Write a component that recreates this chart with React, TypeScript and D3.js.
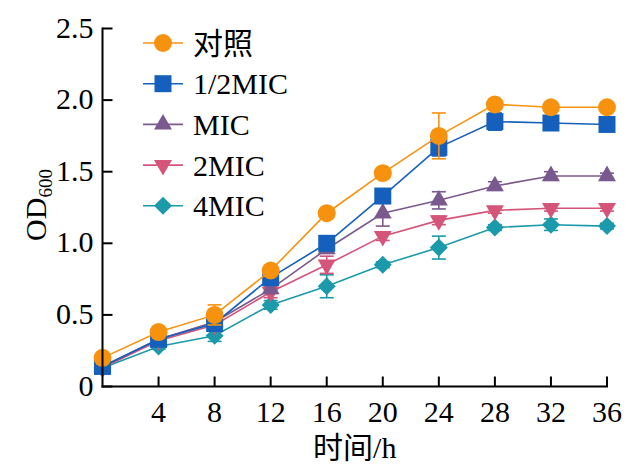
import React, { useEffect } from "react";
import * as d3 from "d3";

// sampling times (h)
const hours = [0, 4, 8, 12, 16, 20, 24, 28, 32, 36];

// OD600 means and error bars
const controlOD = [0.2, 0.38, 0.5, 0.81, 1.21, 1.49, 1.75, 1.97, 1.95, 1.95];
const controlErr = [0.02, 0.02, 0.07, 0.03, 0.02, 0.02, 0.16, 0.02, 0.02, 0.02];
const halfMicOD = [0.14, 0.33, 0.44, 0.76, 1.0, 1.33, 1.67, 1.85, 1.84, 1.83];
const halfMicErr = [0.02, 0.03, 0.03, 0.03, 0.05, 0.02, 0.06, 0.06, 0.02, 0.02];
const micOD = [0.14, 0.33, 0.45, 0.68, 0.96, 1.21, 1.3, 1.4, 1.47, 1.47];
const micErr = [0.02, 0.02, 0.02, 0.03, 0.03, 0.09, 0.06, 0.03, 0.03, 0.02];
const twoMicOD = [0.13, 0.32, 0.43, 0.66, 0.85, 1.05, 1.16, 1.23, 1.245, 1.245];
const twoMicErr = [0.02, 0.02, 0.03, 0.04, 0.06, 0.03, 0.03, 0.02, 0.02, 0.02];
const fourMicOD = [0.13, 0.28, 0.355, 0.57, 0.7, 0.85, 0.97, 1.11, 1.13, 1.12];
const fourMicErr = [0.02, 0.02, 0.04, 0.03, 0.08, 0.02, 0.08, 0.02, 0.04, 0.02];

const seriesNames = ["对照", "1/2MIC", "MIC", "2MIC", "4MIC"];
const yTicks = [0, 0.5, 1.0, 1.5, 2.0, 2.5];
const xTicks = [4, 8, 12, 16, 20, 24, 28, 32, 36];

type Shape = "circle" | "square" | "up" | "down" | "diamond";

const series = [
  { name: seriesNames[0], values: controlOD, err: controlErr, color: "#F7920F", shape: "circle" as Shape },
  { name: seriesNames[1], values: halfMicOD, err: halfMicErr, color: "#1560BC", shape: "square" as Shape },
  { name: seriesNames[2], values: micOD, err: micErr, color: "#7A5A8E", shape: "up" as Shape },
  { name: seriesNames[3], values: twoMicOD, err: twoMicErr, color: "#D5557A", shape: "down" as Shape },
  { name: seriesNames[4], values: fourMicOD, err: fourMicErr, color: "#1A9AAA", shape: "diamond" as Shape },
];

const FONT = "'Liberation Serif', 'Times New Roman', 'Noto Sans CJK SC', serif";

function symbolPath(shape: Shape): { d: string; rot: number } {
  if (shape === "circle") return { d: d3.symbol(d3.symbolCircle, 254)()!, rot: 0 };
  if (shape === "square") return { d: d3.symbol(d3.symbolSquare, 289)()!, rot: 0 };
  if (shape === "up") return { d: d3.symbol(d3.symbolTriangle, 140)()!, rot: 0 };
  if (shape === "down") return { d: d3.symbol(d3.symbolTriangle, 140)()!, rot: 180 };
  return { d: d3.symbol(d3.symbolSquare, 162)()!, rot: 45 };
}

function Marker({ shape, color, x, y }: { shape: Shape; color: string; x: number; y: number }) {
  const s = symbolPath(shape);
  return <path d={s.d} fill={color} transform={`translate(${x},${y}) rotate(${s.rot})`} />;
}

export default function App() {
  useEffect(() => {
    document.body.style.margin = "0";
  }, []);

  const width = 639;
  const height = 467;

  const x = d3.scaleLinear().domain([0, 36]).range([102.5, 607]);
  const y = d3.scaleLinear().domain([0, 2.5]).range([386.5, 28.5]);

  const line = d3
    .line<number>()
    .x((_, i) => x(hours[i]))
    .y((d) => y(d));

  const drawOrder = [...series].reverse();
  const capW = 7;

  return (
    <svg width={width} height={height} style={{ display: "block", background: "#fff" }}>
      {/* series */}
      {drawOrder.map((s) => (
        <g key={s.name}>
          <path d={line(s.values)!} fill="none" stroke={s.color} strokeWidth={1.6} />
          {s.values.map((v, i) => (
            <Marker key={i} shape={s.shape} color={s.color} x={x(hours[i])} y={y(v)} />
          ))}
          {s.values.map((v, i) => {
            const cx = x(hours[i]);
            const top = y(v + s.err[i]);
            const bot = y(v - s.err[i]);
            return (
              <g key={"e" + i} stroke={s.color} strokeWidth={1.6}>
                <line x1={cx} x2={cx} y1={top} y2={bot} />
                <line x1={cx - capW} x2={cx + capW} y1={top} y2={top} />
                <line x1={cx - capW} x2={cx + capW} y1={bot} y2={bot} />
              </g>
            );
          })}
        </g>
      ))}

      {/* axes */}
      <g stroke="#000" strokeWidth={2} fill="none">
        <line x1={x(0)} x2={x(0)} y1={y(0) + 1} y2={y(2.5) - 1} />
        <line x1={x(0) - 1} x2={x(36) + 1} y1={y(0)} y2={y(0)} />
        {yTicks.map((t) => (
          <line key={t} x1={x(0)} x2={x(0) + 10} y1={y(t)} y2={y(t)} />
        ))}
        {xTicks.map((t) => (
          <line key={t} x1={x(t)} x2={x(t)} y1={y(0)} y2={y(0) - 10} />
        ))}
      </g>
      <g fontFamily={FONT} fontSize={30} fill="#000">
        {yTicks.map((t) => (
          <text key={t} x={x(0) - 9} y={y(t)} dy="0.3em" textAnchor="end">
            {t === 0 ? "0" : t.toFixed(1)}
          </text>
        ))}
        {xTicks.map((t) => (
          <text key={t} x={x(t)} y={y(0) + 35} textAnchor="middle">
            {t}
          </text>
        ))}
        <text x={(x(0) + x(36)) / 2} y={458} textAnchor="middle">
          时间/h
        </text>
        <text transform={`translate(46,205) rotate(-90)`} textAnchor="middle">
          OD
          <tspan fontSize={19} dy={6}>
            600
          </tspan>
        </text>
      </g>

      {/* legend */}
      <g fontFamily={FONT} fontSize={30}>
        {series.map((s, i) => {
          const ly = 43 + i * 40.7;
          return (
            <g key={s.name}>
              <line x1={143} x2={183} y1={ly} y2={ly} stroke={s.color} strokeWidth={1.6} />
              <Marker shape={s.shape} color={s.color} x={163} y={ly} />
              <text x={193} y={ly} dy="0.35em" fill="#000">
                {s.name}
              </text>
            </g>
          );
        })}
      </g>
    </svg>
  );
}
